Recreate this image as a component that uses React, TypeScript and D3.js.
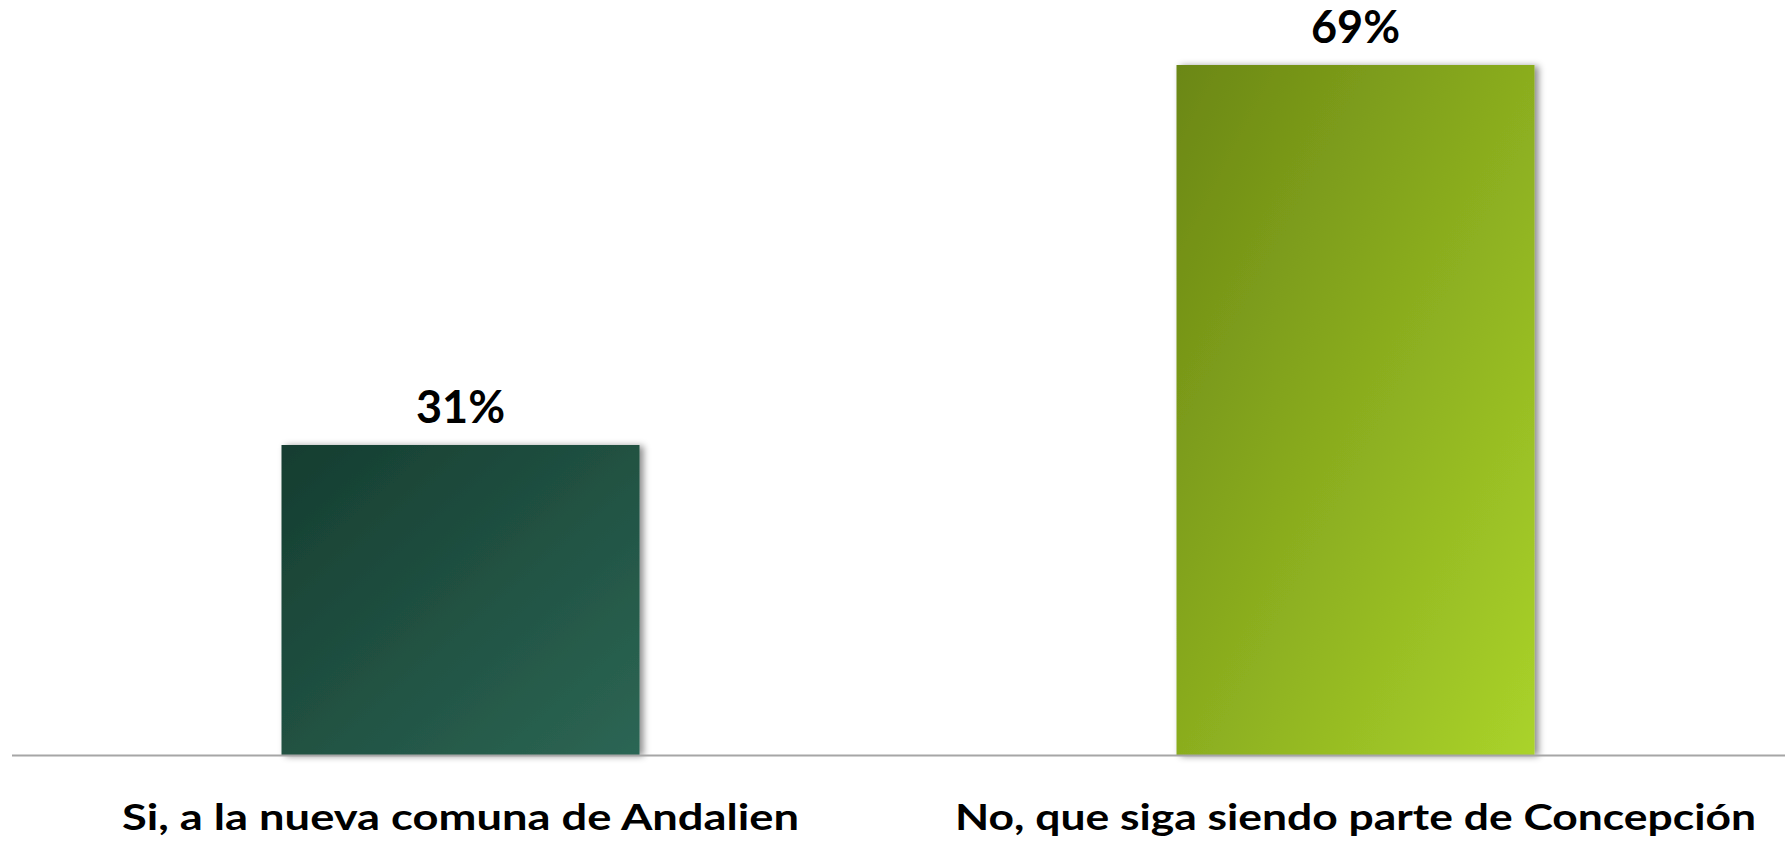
import * as d3 from "d3";

const categories = ["Si, a la nueva comuna de Andalien", "No, que siga siendo parte de Concepción"];
const values = [31, 69];
const gradientStops = [
  ["#153d30", "#2c6654"],
  ["#6b8714", "#aad32a"],
];

// measured widths of the category captions in the original (Calibri is wider than Lato)
const captionWidths = [677, 801];

export default function App() {
  const width = 1785;
  const height = 843;
  const baseline = 755;

  const x = d3
    .scaleBand()
    .domain(categories)
    .range([13, 1803])
    .paddingInner(0.6)
    .paddingOuter(0.3);

  const y = d3.scaleLinear().domain([0, 70]).range([baseline, 55]);

  return (
    <svg
      width={width}
      height={height}
      style={{ position: "absolute", left: 0, top: 0 }}
      fontFamily="Lato, 'Noto Sans', sans-serif"
    >
      <defs>
        {gradientStops.map((s, i) => (
          <linearGradient key={i} id={`bar-grad-${i}`} x1="0" y1="0" x2="1" y2="1">
            <stop offset="0%" stopColor={s[0]} />
            <stop offset="100%" stopColor={s[1]} />
          </linearGradient>
        ))}
        <filter id="bar-shadow" x="-10%" y="-10%" width="130%" height="120%">
          <feDropShadow dx="4" dy="1" stdDeviation="3.5" floodColor="#000" floodOpacity="0.45" />
        </filter>
      </defs>

      <rect width={width} height={height} fill="#fff" />

      {categories.map((c, i) => {
        const bx = x(c) ?? 0;
        const cx = bx + x.bandwidth() / 2;
        return (
          <g key={c}>
            <rect
              x={bx}
              y={y(values[i])}
              width={x.bandwidth()}
              height={baseline - y(values[i])}
              fill={`url(#bar-grad-${i})`}
              filter="url(#bar-shadow)"
            />
            <text
              x={cx}
              y={y(values[i]) - 22}
              textAnchor="middle"
              fontSize={45}
              fontWeight="bold"
              fill="#000"
            >
              {values[i]}%
            </text>
            <text
              x={cx}
              y={830}
              textAnchor="middle"
              fontSize={37}
              fontWeight="bold"
              fill="#000"
              textLength={captionWidths[i]}
              lengthAdjust="spacingAndGlyphs"
            >
              {c}
            </text>
          </g>
        );
      })}

      <line x1={12} x2={width} y1={baseline + 0.5} y2={baseline + 0.5} stroke="#a6a6a6" strokeWidth={2} />
    </svg>
  );
}
